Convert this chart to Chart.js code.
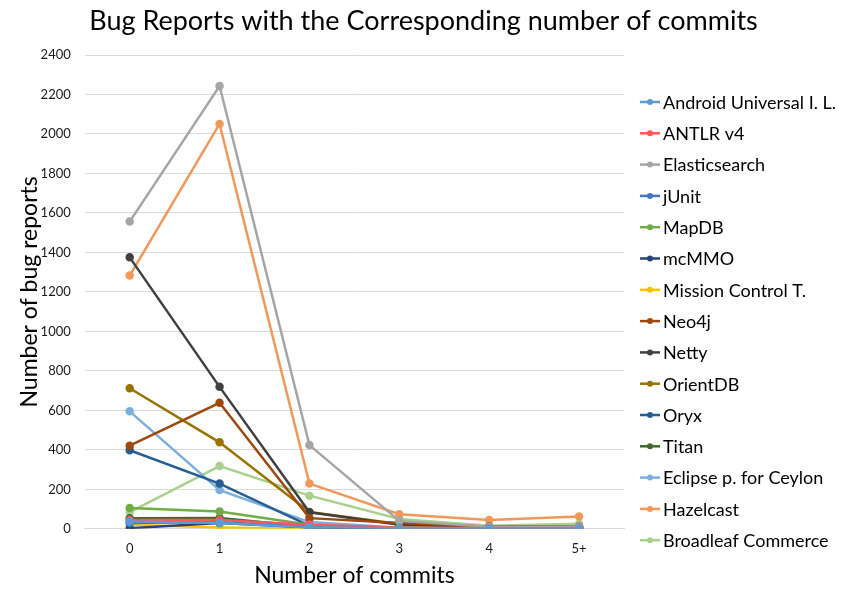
<!DOCTYPE html>
<html><head><meta charset="utf-8">
<script src="https://cdn.jsdelivr.net/npm/chart.js@4.4.1/dist/chart.umd.min.js"></script>
<style>html,body{margin:0;padding:0;background:#fff}#wrap{width:847px;height:589px}</style>
</head><body><div id="wrap"><canvas id="c" width="847" height="589"></canvas></div>
<script>
const categories = ["0","1","2","3","4","5+"];
const androidUIL = [37, 30, 8, 3, 2, 2];
const antlrV4 = [45, 45, 20, 5, 3, 3];
const elasticsearch = [1556, 2243, 424, 40, 10, 10];
const jUnit = [30, 35, 8, 3, 2, 2];
const mapDB = [105, 88, 20, 5, 3, 3];
const mcMMO = [3, 30, 8, 2, 2, 2];
const missionControl = [20, 7, 0, 0, 0, 0];
const neo4j = [421, 638, 54, 30, 10, 10];
const netty = [1375, 719, 84, 20, 10, 10];
const orientDB = [712, 438, 85, 25, 10, 10];
const oryx = [398, 229, 15, 5, 3, 3];
const titan = [54, 55, 10, 3, 2, 2];
const eclipseCeylon = [595, 196, 34, 5, 3, 3];
const hazelcast = [1283, 2051, 229, 74, 45, 62];
const broadleaf = [85, 318, 168, 50, 15, 25];
const seriesNames = ["Android Universal I. L.","ANTLR v4","Elasticsearch","jUnit","MapDB","mcMMO","Mission Control T.","Neo4j","Netty","OrientDB","Oryx","Titan","Eclipse p. for Ceylon","Hazelcast","Broadleaf Commerce"];
const seriesData = [androidUIL, antlrV4, elasticsearch, jUnit, mapDB, mcMMO, missionControl, neo4j, netty, orientDB, oryx, titan, eclipseCeylon, hazelcast, broadleaf];
const seriesColors = ["#5B9BD5","#FF5757","#A5A5A5","#4472C4","#70AD47","#264478","#FFC000","#9E480E","#404040","#997300","#255E91","#43682B","#7CAFDD","#F1975A","#A9D18E"];
const chartTitle = "Bug Reports with the Corresponding number of commits";

const FONT = "Lato, 'Open Sans', sans-serif";
const datasets = seriesNames.map((n,i)=>({
  label:n, data:seriesData[i], borderColor:seriesColors[i], backgroundColor:seriesColors[i],
  borderWidth:2.5, pointRadius:3, pointHoverRadius:3, tension:0, fill:false
}));
const sideLegend = {
  id:'sideLegend',
  afterDraw(chart){
    const g = chart.ctx;
    const x0 = 640, yFirst = 102, step = 31.3;
    g.save();
    g.font = "27px " + FONT; g.textBaseline = 'middle'; g.textAlign = 'center'; g.fillStyle = '#000';
    g.fillText(chartTitle, chart.width/2, 21);
    g.font = "18px " + FONT; g.textAlign = 'left';
    chart.data.datasets.forEach((d,i)=>{
      const y = yFirst + i*step;
      g.strokeStyle = d.borderColor; g.lineWidth = 2.5;
      g.beginPath(); g.moveTo(x0,y); g.lineTo(x0+20,y); g.stroke();
      g.fillStyle = d.borderColor; g.beginPath(); g.arc(x0+10,y,3,0,Math.PI*2); g.fill();
      g.fillStyle = '#000'; g.fillText(d.label, x0+23, y+1);
    });
    g.restore();
  }
};
new Chart(document.getElementById('c'), {
  type:'line',
  data:{labels:categories, datasets},
  plugins:[sideLegend],
  options:{
    responsive:false, animation:false,
    layout:{padding:{left:6,right:223,top:55,bottom:0}},
    plugins:{
      title:{display:false},
      legend:{display:false},
      tooltip:{enabled:false}
    },
    scales:{
      x:{offset:true,grid:{display:false,drawTicks:false},border:{color:"#d9d9d9"},
        ticks:{color:"#1a1a1a",font:{family:FONT,size:13},padding:12},
        title:{display:true,text:"Number of commits",color:"#000",font:{family:FONT,size:23},padding:{top:-7,bottom:0}}},
      y:{min:0,max:2400,grid:{color:"#d9d9d9",drawTicks:false},border:{display:false},
        ticks:{stepSize:200,color:"#1a1a1a",font:{family:FONT,size:13},padding:14,callback:(v)=>String(v)},
        title:{display:true,text:"Number of bug reports",color:"#000",font:{family:FONT,size:23},padding:{top:10,bottom:-17}}}
    }
  }
});
</script></body></html>
